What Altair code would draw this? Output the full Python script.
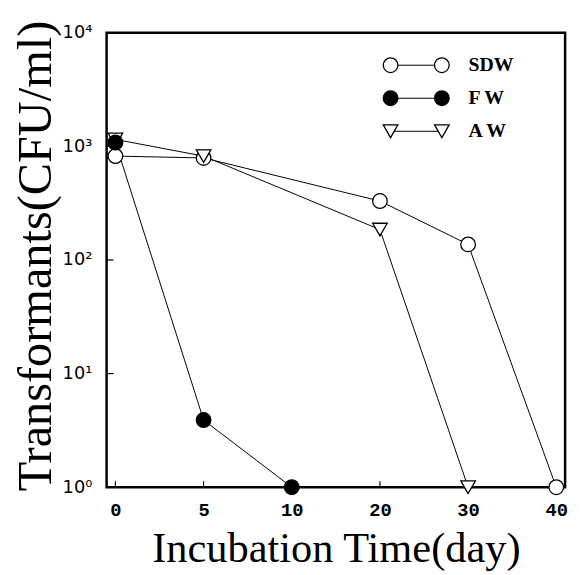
import altair as alt
import pandas as pd

# ---- data ----
days = [0, 5, 10, 20, 30, 40]
series_names = ["SDW", "F W", "A W"]

sdw_days = [0, 5, 20, 30, 40]
sdw_vals = [820, 790, 330, 137, 1]

fw_days = [0, 5, 10]
fw_vals = [1080, 3.9, 1]

aw_days = [0, 5, 20, 30]
aw_vals = [1150, 820, 185, 1]

y_tick_values = [1, 10, 100, 1000, 10000]
y_inner_ticks = [10, 100, 1000]

# ---- tables built from the arrays (F W drawn last so it sits on top) ----
rows = []
for name, ds, vs in [("SDW", sdw_days, sdw_vals), ("A W", aw_days, aw_vals), ("F W", fw_days, fw_vals)]:
    for d, v in zip(ds, vs):
        rows.append({"series": name, "day": d, "cfu": v})
df = pd.DataFrame(rows)
df_leg = pd.DataFrame({"series": series_names, "row": list(range(len(series_names)))})
df_xt = pd.DataFrame({"day": days})
df_yt = pd.DataFrame({"cfu": y_inner_ticks})

W, H = 465, 461

x_scale = alt.Scale(type="point", domain=days, padding=0.1)
y_scale = alt.Scale(type="log", domain=[1, 10000], nice=False)
shape_scale = alt.Scale(domain=series_names, range=["circle", "circle", "triangle-down"])
fill_scale = alt.Scale(domain=series_names, range=["white", "black", "white"])

x_axis = alt.Axis(
    title="Incubation Time(day)", labelAngle=0, ticks=False, tickSize=0, domain=False, grid=False,
    labelFont="Liberation Mono", labelFontWeight="bold", labelFontSize=19, labelColor="black",
    labelPadding=14, titleFont="Liberation Serif", titleFontSize=43, titleFontWeight="normal",
    titleColor="black", titleY=75, titleBaseline="alphabetic",
)
y_axis = alt.Axis(
    title="Transformants(CFU/ml)", values=y_tick_values, ticks=False, tickSize=0, domain=False, grid=False,
    labelExpr="'10' + ['\u2070','\u00b9','\u00b2','\u00b3','\u2074'][round(log(datum.value)/LN10)]",
    labelFont="DejaVu Sans", labelFontSize=18, labelColor="black", labelPadding=15,
    titleFont="Liberation Serif", titleFontSize=49, titleFontWeight="normal", titleColor="black",
    titleX=-57, titleY=226, titleBaseline="alphabetic", titleAngle=270,
)

base = alt.Chart(df)

lines = base.mark_line(color="black", strokeWidth=1).encode(
    x=alt.X("day:O", scale=x_scale, axis=x_axis),
    y=alt.Y("cfu:Q", scale=y_scale, axis=y_axis),
    detail="series:N",
)

points = base.mark_point(filled=True, stroke="black", strokeWidth=1.3, size=220, opacity=1).encode(
    x=alt.X("day:O", scale=x_scale),
    y=alt.Y("cfu:Q", scale=y_scale),
    shape=alt.Shape("series:N", scale=shape_scale, legend=None),
    fill=alt.Fill("series:N", scale=fill_scale, legend=None),
)

x_ticks = alt.Chart(df_xt).mark_rule(color="black", strokeWidth=1.2).encode(
    x=alt.X("day:O", scale=x_scale),
    y=alt.value(H),
    y2=alt.value(H - 6),
)
y_ticks = alt.Chart(df_yt).mark_rule(color="black", strokeWidth=1.2).encode(
    y=alt.Y("cfu:Q", scale=y_scale),
    x=alt.value(0),
    x2=alt.value(7),
)

data_layer = alt.layer(lines, x_ticks, y_ticks, points)

leg_y = alt.Y("row:Q", scale=alt.Scale(domain=[0, 2], range=[33, 100]), axis=None)
leg_base = alt.Chart(df_leg)
leg_rule = leg_base.mark_rule(color="black", strokeWidth=1).encode(
    y=leg_y, x=alt.value(288), x2=alt.value(340)
)
leg_p1 = leg_base.mark_point(filled=True, stroke="black", strokeWidth=1.3, size=220, opacity=1).encode(
    y=leg_y, x=alt.value(288),
    shape=alt.Shape("series:N", scale=shape_scale, legend=None),
    fill=alt.Fill("series:N", scale=fill_scale, legend=None),
)
leg_p2 = leg_base.mark_point(filled=True, stroke="black", strokeWidth=1.3, size=220, opacity=1).encode(
    y=leg_y, x=alt.value(340),
    shape=alt.Shape("series:N", scale=shape_scale, legend=None),
    fill=alt.Fill("series:N", scale=fill_scale, legend=None),
)
leg_text = leg_base.mark_text(
    align="left", baseline="middle", font="Liberation Serif", fontWeight="bold", fontSize=20, color="black"
).encode(y=leg_y, x=alt.value(367), text="series:N")

legend_layer = alt.layer(leg_rule, leg_p1, leg_p2, leg_text)

chart = (
    alt.layer(data_layer, legend_layer)
    .resolve_scale(y="independent")
    .properties(
        width=W,
        height=H,
        autosize=alt.AutoSizeParams(type="none"),
        padding={"left": 100, "top": 21, "right": 7, "bottom": 85},
        background="white",
    )
    .configure_view(stroke="black", strokeWidth=2.5)
)

chart.save("out.html", embed_options={"renderer": "svg", "actions": False})
